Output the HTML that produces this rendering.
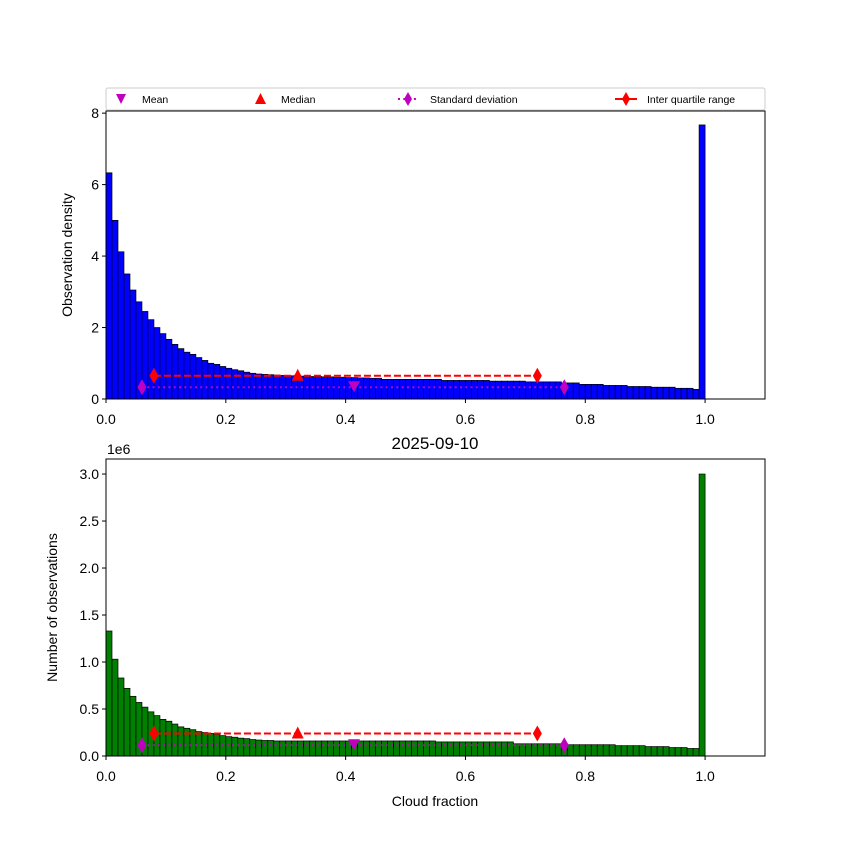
<!DOCTYPE html>
<html><head><meta charset="utf-8"><style>
html,body{margin:0;padding:0;background:#fff;}
svg{display:block;font-family:"Liberation Sans","DejaVu Sans",sans-serif;}
</style></head><body>
<svg id="fig" width="850" height="850" viewBox="0 0 850 850" xmlns="http://www.w3.org/2000/svg">
<rect width="850" height="850" fill="#fff"/>
<g id="top"></g>
<g id="bot"></g>
<g id="legend"></g>
</svg>
<script>
const densityValues = [6.33,5.0,4.12,3.5,3.05,2.72,2.45,2.22,2.0,1.83,1.67,1.53,1.41,1.31,1.25,1.16,1.08,1.0,0.97,0.91,
0.86,0.82,0.79,0.75,0.72,0.70,0.69,0.68,0.67,0.66,
0.65,0.65,0.64,0.64,0.63,0.63,0.62,0.62,0.61,0.61,0.60,0.60,0.59,0.59,0.58,0.58,
0.55,0.55,0.55,0.55,0.55,0.55,0.55,0.55,0.55,0.55,
0.52,0.52,0.52,0.52,0.52,0.52,0.52,0.52,
0.50,0.50,0.50,0.50,0.50,0.50,
0.48,0.48,0.48,0.48,0.48,0.48,
0.45,0.45,0.45,
0.41,0.41,0.41,0.41,
0.38,0.38,0.38,0.38,
0.35,0.35,0.35,0.35,
0.33,0.33,0.33,0.33,
0.30,0.30,0.30,
0.27,
7.67];
const countValues = [1.33,1.03,0.83,0.72,0.635,0.57,0.52,0.47,0.43,0.39,0.37,0.34,0.31,0.295,0.28,0.26,0.25,0.24,0.23,0.217,
0.206,0.2,0.19,0.185,0.175,0.17,0.165,0.165,0.16,0.16,
0.16,0.16,0.16,0.16,0.16,0.16,0.16,0.16,0.16,0.16,0.16,0.16,0.16,0.16,0.16,0.16,0.16,0.16,0.16,0.16,0.16,0.16,0.16,0.16,0.16,
0.15,0.15,0.15,0.15,0.15,0.15,0.15,0.15,0.15,0.15,0.15,0.15,0.15,
0.13,0.13,0.13,0.13,0.13,0.13,0.13,0.13,0.13,
0.12,0.12,0.12,0.12,0.12,0.12,0.12,0.12,
0.11,0.11,0.11,0.11,0.11,
0.10,0.10,0.10,0.10,
0.09,0.09,0.09,
0.08,0.08,
3.0];
const binWidth = 0.01;
const xTicks = [0,0.2,0.4,0.6,0.8,1.0];
const xTickLabels = ["0.0","0.2","0.4","0.6","0.8","1.0"];
const topYTicks = [0,2,4,6,8];
const topYTickLabels = ["0","2","4","6","8"];
const botYTicks = [0,0.5,1.0,1.5,2.0,2.5,3.0];
const botYTickLabels = ["0.0","0.5","1.0","1.5","2.0","2.5","3.0"];
const meanX = 0.414, medianX = 0.32;
const stdLow = 0.06, stdHigh = 0.765;
const iqrLow = 0.08, iqrHigh = 0.72;
const topStatY = [0.33, 0.65];
const botStatY = [0.115, 0.24];

const NS="http://www.w3.org/2000/svg";
function mk(parent,tag,attrs,text){const e=document.createElementNS(NS,tag);for(const k in attrs)e.setAttribute(k,attrs[k]);if(text!==undefined)e.textContent=text;parent.appendChild(e);return e;}

function panel(g,cfg){
  const L=106,R=765,T=cfg.top,B=cfg.bottom;
  const sx=v=>L+(v-0)/(1.1)*(R-L);
  const sy=v=>B-(v/cfg.ymax)*(B-T);
  cfg.values.forEach((v,i)=>{
    const x0=sx(i*binWidth),x1=sx((i+1)*binWidth);
    const r=mk(g,'rect',{x:x0,y:sy(v),width:x1-x0,height:B-sy(v),fill:cfg.color,stroke:'#000','stroke-width':0.7});
    
    
  });
  const ys=sy(cfg.stat[0]), yi=sy(cfg.stat[1]);
  const sl=mk(g,'line',{x1:sx(stdLow),x2:sx(stdHigh),y1:ys,y2:ys,stroke:'#bf00bf','stroke-width':2,'stroke-dasharray':'2,3.3'});
  
  const il=mk(g,'line',{x1:sx(iqrLow),x2:sx(iqrHigh),y1:yi,y2:yi,stroke:'#ff0000','stroke-width':2,'stroke-dasharray':'7,3'});
  
  const dia=(x,y,c,n)=>{const p=mk(g,'path',{d:`M${x},${y-8} L${x+4.5},${y} L${x},${y+8} L${x-4.5},${y} Z`,fill:c});};
  dia(sx(stdLow),ys,'#bf00bf','std-marker');dia(sx(stdHigh),ys,'#bf00bf','std-marker');
  dia(sx(iqrLow),yi,'#ff0000','iqr-marker');dia(sx(iqrHigh),yi,'#ff0000','iqr-marker');
  const mx=sx(meanX);
  const m=mk(g,'path',{d:`M${mx-6},${ys-6} L${mx+6},${ys-6} L${mx},${ys+5} Z`,fill:'#bf00bf'});
  
  const dx=sx(medianX);
  const md=mk(g,'path',{d:`M${dx-6},${yi+5} L${dx+6},${yi+5} L${dx},${yi-7} Z`,fill:'#ff0000'});
  
  const f=mk(g,'rect',{x:L,y:T,width:R-L,height:B-T,fill:'none',stroke:'#000','stroke-width':1});
  
  xTicks.forEach((t,i)=>{
    const x=sx(t);
    const l=mk(g,'line',{x1:x,x2:x,y1:B,y2:B+4,stroke:'#000'});
    const tx=mk(g,'text',{x:x,y:B+25,'text-anchor':'middle','font-size':14},xTickLabels[i]);
  });
  cfg.yTicks.forEach((t,i)=>{
    const y=sy(t);
    const l=mk(g,'line',{x1:L-4,x2:L,y1:y,y2:y,stroke:'#000'});
    const tx=mk(g,'text',{x:L-7,y:y+5,'text-anchor':'end','font-size':14},cfg.yLabels[i]);
  });
  const yt=mk(g,'text',{x:0,y:0,'text-anchor':'middle','font-size':14,transform:`translate(${cfg.ylabX},${(T+B)/2}) rotate(-90)`},cfg.ylabel);
  
}
panel(document.getElementById('top'),{top:111,bottom:399,ymax:8.06,values:densityValues,color:'#0000ff',stat:topStatY,yTicks:topYTicks,yLabels:topYTickLabels,ylabel:'Observation density',ylabX:72});
panel(document.getElementById('bot'),{top:459,bottom:756,ymax:3.16,values:countValues,color:'#008000',stat:botStatY,yTicks:botYTicks,yLabels:botYTickLabels,ylabel:'Number of observations',ylabX:57});
const bot=document.getElementById('bot');
let t=mk(bot,'text',{x:107,y:454,'font-size':14},'1e6');
t=mk(bot,'text',{x:435,y:449,'text-anchor':'middle','font-size':17},'2025-09-10');
t=mk(bot,'text',{x:435,y:806,'text-anchor':'middle','font-size':14},'Cloud fraction');
const lg=document.getElementById('legend');
let b=mk(lg,'rect',{x:106,y:88,width:659,height:22,fill:'#fff',stroke:'#ccc','stroke-width':1,rx:2});
let p=mk(lg,'path',{d:'M116,94 L126,94 L121,104 Z',fill:'#bf00bf'});
t=mk(lg,'text',{x:142,y:103,'font-size':10.5},'Mean');
p=mk(lg,'path',{d:'M255,104 L266,104 L260.5,93 Z',fill:'#ff0000'});
t=mk(lg,'text',{x:281,y:103,'font-size':10.5},'Median');
p=mk(lg,'line',{x1:398,x2:418,y1:99,y2:99,stroke:'#bf00bf','stroke-width':2,'stroke-dasharray':'2,3.3'});
p=mk(lg,'path',{d:'M408,92 L412,99 L408,106 L404,99 Z',fill:'#bf00bf'});
t=mk(lg,'text',{x:430,y:103,'font-size':10.5},'Standard deviation');
p=mk(lg,'line',{x1:615,x2:637,y1:99,y2:99,stroke:'#ff0000','stroke-width':2});
p=mk(lg,'path',{d:'M626,92 L630,99 L626,106 L622,99 Z',fill:'#ff0000'});
t=mk(lg,'text',{x:647,y:103,'font-size':10.5},'Inter quartile range');
</script>
</body></html>
